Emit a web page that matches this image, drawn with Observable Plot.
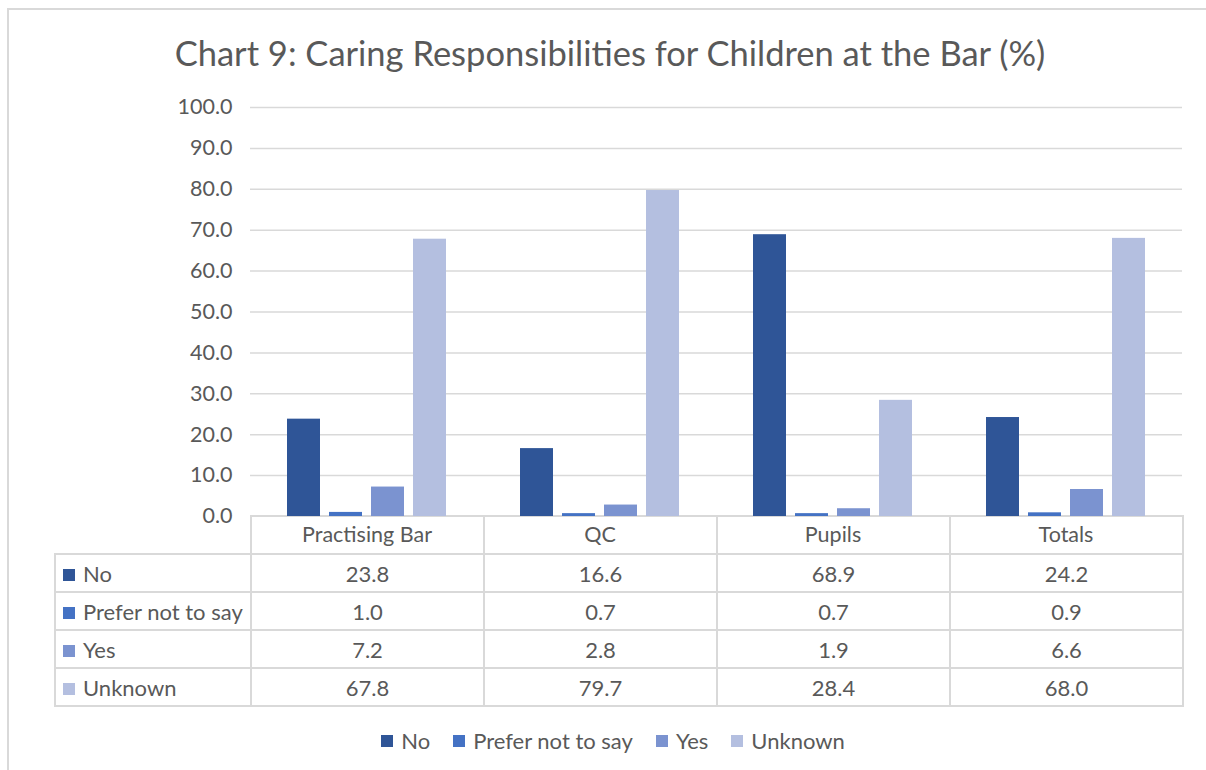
<!DOCTYPE html>
<html>
<head>
<meta charset="utf-8">
<script src="https://cdn.jsdelivr.net/npm/d3@7"></script>
<script src="https://cdn.jsdelivr.net/npm/@observablehq/plot@0.6"></script>
<style>
  html, body { margin: 0; padding: 0; background: #fff; }
  body { width: 1206px; height: 770px; position: relative; overflow: hidden; font-family: Lato, "Open Sans", sans-serif; color: #595959; }
  #frame { position: absolute; left: 7px; top: 8px; width: 1300px; height: 900px; border-top: 2px solid #d9d9d9; border-left: 2px solid #d9d9d9; }
  #title { position: absolute; left: 0; width: 1220px; top: 32px; text-align: center; font-size: 34.5px; color: #595959; }
  #chart { position: absolute; left: 0; top: 90px; z-index: 2; }
  #tbl { position: absolute; left: 54px; top: 515px; border-collapse: collapse; table-layout: fixed; font-size: 22px; z-index: 1; }
  #tbl td { border: 2px solid #d9d9d9; padding: 0; text-align: center; white-space: nowrap; }
  #tbl tr { height: 38px; }
  #tbl tr.head { height: 38px; }
  #tbl td.empty { border: none; border-right: 2px solid #d9d9d9; }
  #tbl td.lab { text-align: left; padding-left: 7px; }
  .sw { display: inline-block; width: 12px; height: 12px; margin-right: 8px; vertical-align: 1px; }
  #legend { position: absolute; left: 0; width: 1226px; top: 727px; display: flex; justify-content: center; gap: 23px; font-size: 22px; }
  #legend span.item { display: inline-flex; align-items: center; }
</style>
</head>
<body>
<div id="frame"></div>
<div id="title">Chart 9: Caring Responsibilities for Children at the Bar (%)</div>
<div id="chart"></div>
<table id="tbl"></table>
<div id="legend"></div>
<script>
const categories = ["Practising Bar", "QC", "Pupils", "Totals"];
const series = ["No", "Prefer not to say", "Yes", "Unknown"];
const seriesColors = ["#2f5597", "#4472c4", "#7b93d0", "#b4bfe0"];
const valuesNo = [23.8, 16.6, 68.9, 24.2];
const valuesPreferNotToSay = [1.0, 0.7, 0.7, 0.9];
const valuesYes = [7.2, 2.8, 1.9, 6.6];
const valuesUnknown = [67.8, 79.7, 28.4, 68.0];
const yTicks = [0, 10, 20, 30, 40, 50, 60, 70, 80, 90, 100];

const seriesValues = [valuesNo, valuesPreferNotToSay, valuesYes, valuesUnknown];
const data = categories.flatMap((c, i) => series.map((s, j) => ({category: c, series: s, value: seriesValues[j][i]})));

const chart = Plot.plot({
  width: 1206,
  height: 463,
  marginLeft: 250,
  marginRight: 24,
  marginTop: 17,
  marginBottom: 37,
  style: {background: "transparent", fontFamily: "Lato, 'Open Sans', sans-serif", fontSize: "21.5px", color: "#595959"},
  fx: {domain: categories, padding: 0, label: null, tickSize: 0, tickPadding: 10, axis: "bottom"},
  x: {domain: series, paddingInner: 0.22, paddingOuter: 0.85, axis: null},
  y: {domain: [0, 100], ticks: yTicks, tickFormat: d => d.toFixed(1), tickSize: 0, tickPadding: 18, label: null},
  color: {domain: series, range: seriesColors},
  marks: [
    Plot.ruleY(yTicks.slice(1), {stroke: "#d9d9d9", strokeWidth: 1.5}),
    Plot.barY(data, {fx: "category", x: "series", y: "value", fill: "series"})
  ]
});
document.getElementById("chart").appendChild(chart);

// data table below the chart
const tbl = document.getElementById("tbl");
const colgroup = document.createElement("colgroup");
[196, 233, 233, 233, 233].forEach(w => { const c = document.createElement("col"); c.style.width = w + "px"; colgroup.appendChild(c); });
tbl.appendChild(colgroup);
const head = document.createElement("tr"); head.className = "head";
const e = document.createElement("td"); e.className = "empty"; head.appendChild(e);
categories.forEach(() => { const td = document.createElement("td"); head.appendChild(td); });
tbl.appendChild(head);
series.forEach((s, j) => {
  const tr = document.createElement("tr");
  const lab = document.createElement("td"); lab.className = "lab";
  lab.innerHTML = `<span class="sw" style="background:${seriesColors[j]}"></span>${s}`;
  tr.appendChild(lab);
  categories.forEach((c, i) => { const td = document.createElement("td"); td.textContent = seriesValues[j][i].toFixed(1); tr.appendChild(td); });
  tbl.appendChild(tr);
});

// legend
const legend = document.getElementById("legend");
series.forEach((s, j) => {
  const it = document.createElement("span"); it.className = "item";
  it.innerHTML = `<span class="sw" style="background:${seriesColors[j]}"></span>${s}`;
  legend.appendChild(it);
});
</script>
</body>
</html>
